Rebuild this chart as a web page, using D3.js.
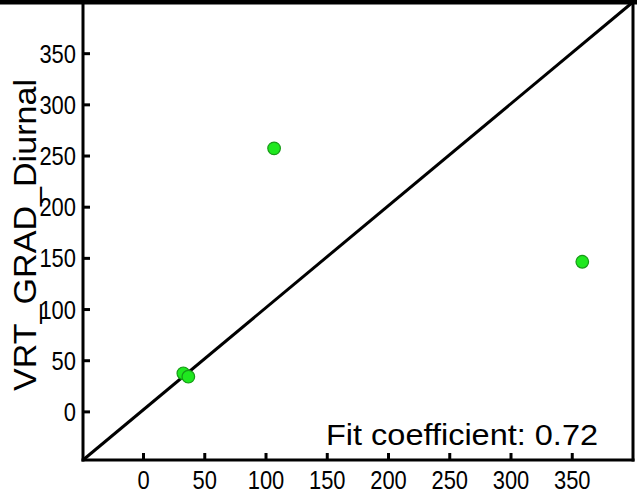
<!DOCTYPE html>
<html><head><meta charset="utf-8">
<script src="https://cdn.jsdelivr.net/npm/d3@7"></script>
<style>body{margin:0;background:#fff}svg{display:block}text{font-family:"Liberation Sans",Arial,sans-serif;fill:#000}</style>
</head><body>
<script>
const xValues = [107, 358.6, 32.9, 37];
const yValues = [257, 146.2, 37.2, 33.9];
const xTicks = [0, 50, 100, 150, 200, 250, 300, 350];
const yTicks = [0, 50, 100, 150, 200, 250, 300, 350];
const yLabel = "VRT_GRAD_Diurnal";
const fitText = "Fit coefficient: 0.72";

const W = 637, H = 500;
const svg = d3.select("body").append("svg").attr("width", W).attr("height", H);
const x = d3.scaleLinear().domain([-49, 400]).range([83, 633]);
const y = d3.scaleLinear().domain([-47.5, 400]).range([460, 2]);

// diagonal 1:1 line
svg.append("line")
  .attr("x1", x(-49)).attr("y1", y(-47.5))
  .attr("x2", x(400)).attr("y2", y(400))
  .attr("stroke", "#000").attr("stroke-width", 3);

// axes
const xAxis = d3.axisBottom(x).tickValues(xTicks).tickSizeInner(-7).tickSizeOuter(0).tickPadding(15);
const gx = svg.append("g").attr("transform", "translate(0,460)").call(xAxis);
const yAxis = d3.axisLeft(y).tickValues(yTicks).tickSizeInner(-7).tickSizeOuter(0).tickPadding(8);
const gy = svg.append("g").attr("transform", "translate(83,0)").call(yAxis);
[gx, gy].forEach(g => {
  g.select(".domain").remove();
  g.selectAll(".tick line").attr("stroke", "#000").attr("stroke-width", 3);
  g.selectAll(".tick text")
    .attr("font-size", 25)
    .attr("font-family", "Liberation Sans, Arial, sans-serif")
    .attr("fill", "#000")
    .attr("lengthAdjust", "spacingAndGlyphs")
    .attr("textLength", d => String(d).length * 12.2);
});
gx.selectAll(".tick text").attr("dy", null).attr("y", 29);
gy.selectAll(".tick text").attr("dy", "0.36em").attr("x", -7);

// frame
svg.append("line").attr("x1", 83).attr("x2", 83).attr("y1", 0).attr("y2", 461.5).attr("stroke", "#000").attr("stroke-width", 3);
svg.append("line").attr("x1", 81.5).attr("x2", 634.5).attr("y1", 460).attr("y2", 460).attr("stroke", "#000").attr("stroke-width", 3);
svg.append("line").attr("x1", 633).attr("x2", 633).attr("y1", 0).attr("y2", 461.5).attr("stroke", "#000").attr("stroke-width", 3);
svg.append("line").attr("x1", 0).attr("x2", W).attr("y1", 2).attr("y2", 2).attr("stroke", "#000").attr("stroke-width", 5);

// points
const pts = xValues.map((v, i) => ({x: v, y: yValues[i]}));
svg.append("g").selectAll("circle").data(pts).join("circle")
  .attr("cx", d => x(d.x)).attr("cy", d => y(d.y)).attr("r", 6.3)
  .attr("fill", "#1fe81f").attr("stroke", "#179a17").attr("stroke-width", 1.2);

// y label
svg.append("text")
  .attr("transform", "translate(36,235) rotate(-90)")
  .attr("text-anchor", "middle")
  .attr("font-size", 31)
  .attr("textLength", 312).attr("lengthAdjust", "spacingAndGlyphs")
  .text(yLabel);

// fit coefficient
svg.append("text")
  .attr("x", 598).attr("y", 445)
  .attr("text-anchor", "end")
  .attr("font-size", 29)
  .attr("textLength", 272).attr("lengthAdjust", "spacingAndGlyphs")
  .text(fitText);
</script>
</body></html>
